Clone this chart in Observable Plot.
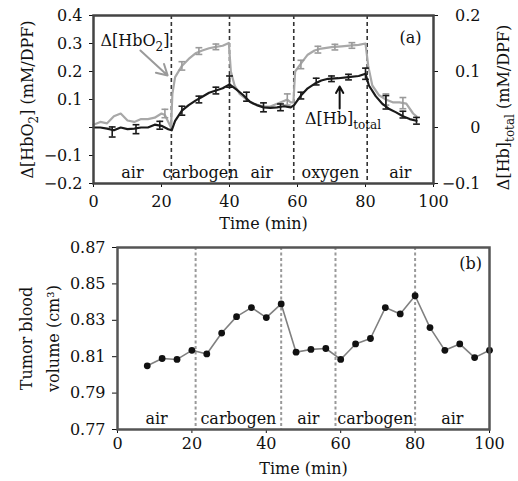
<!DOCTYPE html>
<html><head><meta charset="utf-8">
<script src="https://cdn.jsdelivr.net/npm/d3@7"></script>
<script src="https://cdn.jsdelivr.net/npm/@observablehq/plot@0.6"></script>
<style>
body{margin:0;background:#fff;}
#chart{width:518px;}
#chart svg{display:block;}
</style></head><body><div id="chart"></div>
<script>
// ---------- Panel (a) data ----------
const hbo2Time = [0,2,4,6,8,10,12,14,16,18,20,21,22,22.8,23.2,24,26,28,30,32,34,36,38,39.8,40.4,41.5,43,45,47,50,52,54,56,57,58,58.8,59.3,61,63,65,67,70,73,76,78,80,80.8,82,84,86,88,90,92,94,95];
const hbo2Val  = [0.01,0.02,0.015,0.04,0.05,0.025,0.02,0.03,0.03,0.035,0.05,0.045,0.02,0.0,0.12,0.18,0.22,0.245,0.265,0.275,0.283,0.288,0.292,0.302,0.2,0.15,0.12,0.1,0.085,0.075,0.075,0.085,0.095,0.1,0.09,0.09,0.2,0.228,0.26,0.275,0.282,0.287,0.29,0.293,0.295,0.3,0.22,0.15,0.115,0.1,0.09,0.09,0.085,0.05,0.04];
const hbo2ErrTime = [21,26,31,36,57,61,66,71,76,86,91];
const hbo2ErrVal  = [0.05,0.22,0.273,0.288,0.1,0.225,0.278,0.287,0.293,0.1,0.087];
const hbo2ErrSize = [0.015,0.015,0.012,0.01,0.02,0.015,0.012,0.01,0.01,0.02,0.02];

const hbTime = [0,2,4,6,8,10,12,14,16,18,20,22,23,24,26,28,30,32,34,36,38,40,42,44,46,48,50,52,54,56,58,59,61,63,65,67,69,72,75,78,80,81,83,85,87,89,91,93,95];
const hbVal  = [0.0,0.0,-0.002,-0.005,0.0,-0.003,-0.002,0.0,0.0,0.005,0.003,-0.003,-0.005,0.012,0.03,0.04,0.048,0.055,0.062,0.066,0.07,0.077,0.068,0.058,0.046,0.04,0.036,0.035,0.036,0.038,0.036,0.04,0.057,0.07,0.078,0.084,0.087,0.088,0.09,0.092,0.096,0.075,0.056,0.042,0.033,0.027,0.02,0.015,0.012];
const hbErrTime = [5.5,12.5,19.5,26,31,36,40,45,50,55,61,65.5,70,75,80,86,91,95];
const hbErrVal  = [-0.008,-0.003,0.004,0.03,0.05,0.066,0.082,0.055,0.036,0.036,0.057,0.082,0.087,0.09,0.096,0.045,0.023,0.012];
const hbErrSize = [0.009,0.008,0.007,0.008,0.006,0.006,0.01,0.008,0.008,0.006,0.006,0.006,0.005,0.005,0.01,0.012,0.006,0.006];

const gasChangeA = [22.9, 40, 58.9, 80.5];
const gasLabelA = ["air","carbogen","air","oxygen","air"];
const xTicks = [0,20,40,60,80,100];
const leftTicks = [-0.2,-0.1,0,0.1,0.2,0.3,0.4];
const rightTicks = [-0.1,0,0.1,0.2];

const annotText = ["Δ[HbO{2}]","Δ[Hb]{total}"];
const annotTime = [12.2, 73.4];
const annotValue = [0.31, 0.03];
const arrowFromTime = [13.8, 72.4], arrowFromValue = [0.275, 0.068];
const arrowToTime = [21.8, 72.4], arrowToValue = [0.186, 0.146];
const arrowColor = ["#9a9a9a", "#111"];

// ---------- Panel (b) data ----------
const volTime = [8,12,16,20,24,28,32,36,40,44,48,52,56,60,64,68,72,76,80,84,88,92,96,100];
const volValue = [0.805,0.809,0.8085,0.8135,0.8115,0.823,0.832,0.837,0.8315,0.839,0.8125,0.814,0.8145,0.8085,0.817,0.82,0.837,0.8335,0.8435,0.826,0.8135,0.817,0.8095,0.8135];
const gasChangeB = [21, 44, 58.6, 80];
const gasLabelB = ["air","carbogen","air","carbogen","air"];
const volTicks = [0.77,0.79,0.81,0.83,0.85,0.87];

// ---------- helpers ----------
const FONT = "DejaVu Serif";
const FS = 16;
const fmt = d => (d < 0 ? "\u2212" : "") + String(+Math.abs(d).toFixed(2));
function mids(changes){
  const b = [0, ...changes, 100];
  return b.slice(0,-1).map((v,i)=>(v+b[i+1])/2);
}
const hbo2 = hbo2Time.map((t,i)=>({t, v: hbo2Val[i]}));
const hbo2Err = hbo2ErrTime.map((t,i)=>({t, v: hbo2ErrVal[i], e: hbo2ErrSize[i]}));
const hb = hbTime.map((t,i)=>({t, v: hbVal[i]*2}));          // right-axis units mapped onto left scale (x2)
const hbErr = hbErrTime.map((t,i)=>({t, v: hbErrVal[i]*2, e: hbErrSize[i]*2}));
const midsA = mids(gasChangeA), midsB = mids(gasChangeB);
const annot = annotText.map((s,i)=>({s, t: annotTime[i], v: annotValue[i], c: arrowColor[i],
  x1: arrowFromTime[i], y1: arrowFromValue[i], x2: arrowToTime[i], y2: arrowToValue[i]}));

function errMarks(data, color){
  return [
    Plot.ruleX(data, {x:"t", y1: d=>d.v-d.e, y2: d=>d.v+d.e, stroke: color, strokeWidth: 1.6}),
    Plot.link(data, {x1: d=>d.t-1, x2: d=>d.t+1, y1: d=>d.v+d.e, y2: d=>d.v+d.e, stroke: color, strokeWidth: 1.6}),
    Plot.link(data, {x1: d=>d.t-1, x2: d=>d.t+1, y1: d=>d.v-d.e, y2: d=>d.v-d.e, stroke: color, strokeWidth: 1.6})
  ];
}
const T = {lineAnchor: "middle", textAnchor: "middle", fill: "#111"};
const style = {fontFamily: FONT, fontSize: FS + "px", background: "#fff", color: "#111", overflow: "visible"};

const plotA = Plot.plot({
  width: 518, height: 240,
  marginTop: 15, marginBottom: 57, marginLeft: 93, marginRight: 85,
  style,
  x: {domain: [0,100], label: null},
  y: {domain: [-0.2,0.4], label: null},
  marks: [
    Plot.ruleX(gasChangeA, {stroke: "#333", strokeWidth: 1.6, strokeDasharray: "4,3"}),
    Plot.line(hbo2, {x:"t", y:"v", stroke:"#a8a8a8", strokeWidth: 2.2}),
    ...errMarks(hbo2Err, "#9a9a9a"),
    Plot.line(hb, {x:"t", y:"v", stroke:"#1a1a1a", strokeWidth: 2.2}),
    ...errMarks(hbErr, "#1a1a1a"),
    Plot.arrow(annot, {x1:"x1", y1:"y1", x2:"x2", y2:"y2", stroke:"c", strokeWidth: 2, headLength: 9}),
    Plot.text(annot, {x:"t", y:"v", text:"s", ...T}),
    Plot.text(gasLabelA, {x: (d,i)=>midsA[i], frameAnchor:"bottom", dy: -11, ...T}),
    Plot.text(["(a)"], {frameAnchor:"top-right", dx: -23, dy: 22, ...T}),
    Plot.axisX(xTicks, {tickSize: 4, tickPadding: 8, label: null, tickFormat: d=>String(d)}),
    Plot.axisY(leftTicks, {anchor:"left", tickSize: 4, tickPadding: 7, label: null, tickFormat: d => d === 0 ? "" : fmt(d)}),
    Plot.axisY(rightTicks.map(r=>r*2), {anchor:"right", tickSize: 4, tickPadding: 43, textAnchor:"end", label: null, tickFormat: d => fmt(d/2)}),
    Plot.frame({stroke:"#444", strokeWidth: 2.5}),
    Plot.text(["Δ[HbO{2}] (mM/DPF)"], {frameAnchor:"left", rotate: -90, dx: -66, ...T}),
    Plot.text(["Δ[Hb]{total} (mM/DPF)"], {frameAnchor:"right", rotate: -90, dx: 70, dy: 8, ...T}),
    Plot.text(["Time (min)"], {frameAnchor:"bottom", dy: 40, ...T})
  ]
});

const vol = volTime.map((t,i)=>({t, v: volValue[i]}));
const plotB = Plot.plot({
  width: 518, height: 241,
  marginTop: 7, marginBottom: 52, marginLeft: 117, marginRight: 29,
  style,
  x: {domain: [0,100], label: null},
  y: {domain: [0.77,0.87], label: null},
  marks: [
    Plot.ruleX(gasChangeB, {stroke:"#999", strokeWidth: 2, strokeDasharray:"3,2.5"}),
    Plot.line(vol, {x:"t", y:"v", stroke:"#808080", strokeWidth: 1.6}),
    Plot.dot(vol, {x:"t", y:"v", r: 3.4, fill:"#111", stroke:"none"}),
    Plot.text(gasLabelB, {x: (d,i)=>midsB[i], frameAnchor:"bottom", dy: -11, ...T}),
    Plot.text(["(b)"], {frameAnchor:"top-right", dx: -19, dy: 16, ...T}),
    Plot.axisX(xTicks, {tickSize: 4, tickPadding: 4, label: null, tickFormat: d=>String(d)}),
    Plot.axisY(volTicks, {anchor:"left", tickSize: 5, tickPadding: 7, label: null, tickFormat: d3.format(".2f")}),
    Plot.frame({stroke:"#555", strokeWidth: 2.5}),
    Plot.text(["Tumor blood"], {frameAnchor:"left", rotate: -90, dx: -91, ...T}),
    Plot.text(["volume (cm³)"], {frameAnchor:"left", rotate: -90, dx: -64, ...T}),
    Plot.text(["Time (min)"], {frameAnchor:"bottom", dy: 39, ...T})
  ]
});

// subscripts written as {..}
function subscripts(svg){
  d3.select(svg).selectAll("text").each(function(){
    const t = this.textContent;
    if (!t.includes("{") || this.querySelector("tspan")) return;
    const parts = t.split(/(\{[^}]*\})/).filter(p=>p.length);
    this.textContent = "";
    let shifted = false;
    for (const p of parts){
      const ts = d3.select(this).append("tspan");
      if (p.startsWith("{")){
        ts.text(p.slice(1,-1)).attr("font-size", Math.round(FS*0.72)).attr("dy", shifted ? null : 5);
        shifted = true;
      } else {
        ts.text(p);
        if (shifted){ ts.attr("dy", -5); shifted = false; }
      }
    }
  });
}
subscripts(plotA); subscripts(plotB);
document.getElementById("chart").append(plotA, plotB);
</script></body></html>
